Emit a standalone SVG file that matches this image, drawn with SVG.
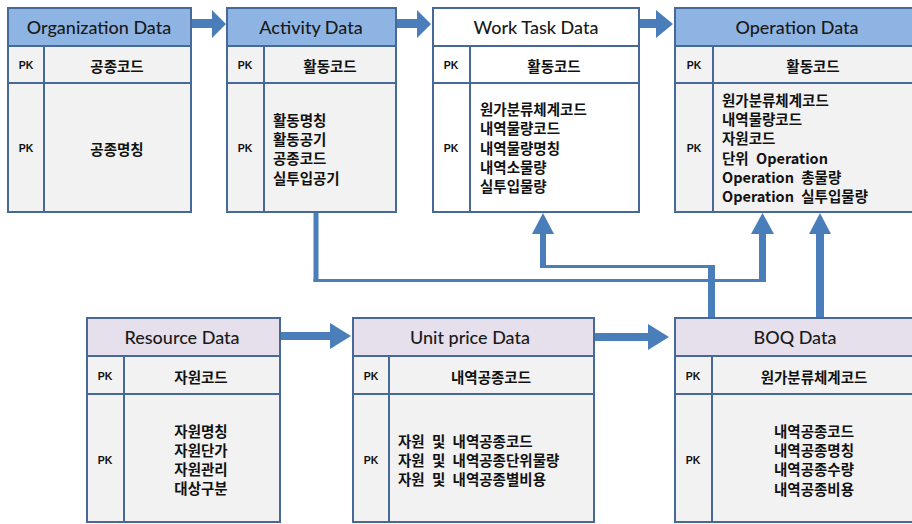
<svg xmlns="http://www.w3.org/2000/svg" width="912" height="524" viewBox="0 0 912 524">
<style>
.box{stroke:#46699a;stroke-width:2}
.hb{fill:#8eb4e3}
.hw{fill:#ffffff}
.hl{fill:#e5e0ec}
.bg{fill:#f2f2f2}
.bw{fill:#ffffff}
.ln{stroke:#46699a;stroke-width:2;fill:none}
.ht{font-family:Lato,"Open Sans",sans-serif;font-size:18px;font-weight:500;fill:#1a1a1a;text-anchor:middle;dominant-baseline:central}
.pk{font-family:"Liberation Sans",Arial,sans-serif;font-size:10.5px;font-weight:bold;fill:#111;text-anchor:middle;dominant-baseline:central}
.kt{font-family:"Noto Sans CJK KR","Noto Sans",sans-serif;font-size:14.5px;font-weight:bold;fill:#111;dominant-baseline:central;word-spacing:4px}
.c{text-anchor:middle}
.ar{fill:#4a7ebb}
</style>

<g id="connectors">
  <polygon class="ar" points="191,19 212,19 212,10 226,24 212,38 212,28 191,28"/>
  <polygon class="ar" points="397,19 417,19 417,10 431,24 417,38 417,28 397,28"/>
  <polygon class="ar" points="640,19 656,19 656,10 673,24 656,38 656,28 640,28"/>
  <polygon class="ar" points="281,332 330,332 330,323 351,336 330,349 330,340 281,340"/>
  <polygon class="ar" points="595,333 648,333 648,324 669,337 648,350 648,341 595,341"/>
  <rect class="ar" x="313.5" y="212" width="5" height="70"/>
  <rect class="ar" x="313.5" y="279" width="452" height="3"/>
  <rect class="ar" x="759" y="232" width="7" height="50"/>
  <polygon class="ar" points="751,234 762.5,213 774,234"/>
  <rect class="ar" x="708" y="265" width="7" height="55"/>
  <rect class="ar" x="540" y="265" width="175" height="3"/>
  <rect class="ar" x="540" y="232" width="6" height="36"/>
  <polygon class="ar" points="532,234 543,213 554,234"/>
  <rect class="ar" x="816" y="232" width="8" height="88"/>
  <polygon class="ar" points="809,234 820,213 831,234"/>
</g>

<g id="organization">
  <rect class="box hb" x="8" y="8" width="183" height="38"/>
  <rect class="box bg" x="8" y="46" width="183" height="166"/>
  <line class="ln" x1="8" y1="83" x2="191" y2="83"/>
  <line class="ln" x1="44" y1="46" x2="44" y2="212"/>
  <text class="ht" x="99" y="27">Organization Data</text>
  <text class="pk" x="26" y="65">PK</text>
  <text class="pk" x="26" y="148">PK</text>
  <text class="kt c" x="117" y="65">공종코드</text>
  <text class="kt c" x="117" y="148">공종명칭</text>
</g>

<g id="activity">
  <rect class="box hb" x="227" y="8" width="169" height="38"/>
  <rect class="box bg" x="227" y="46" width="169" height="166"/>
  <line class="ln" x1="227" y1="83" x2="396" y2="83"/>
  <line class="ln" x1="264" y1="46" x2="264" y2="212"/>
  <text class="ht" x="311" y="27">Activity Data</text>
  <text class="pk" x="245" y="65">PK</text>
  <text class="pk" x="245" y="148">PK</text>
  <text class="kt c" x="330" y="65">활동코드</text>
  <text class="kt" x="273" y="119">활동명칭</text>
  <text class="kt" x="273" y="138">활동공기</text>
  <text class="kt" x="273" y="157">공종코드</text>
  <text class="kt" x="273" y="177">실투입공기</text>
</g>

<g id="worktask">
  <rect class="box hw" x="433" y="8" width="206" height="38"/>
  <rect class="box bw" x="433" y="46" width="206" height="166"/>
  <line class="ln" x1="433" y1="83" x2="639" y2="83"/>
  <line class="ln" x1="470" y1="46" x2="470" y2="212"/>
  <text class="ht" x="536" y="27">Work Task Data</text>
  <text class="pk" x="451" y="65">PK</text>
  <text class="pk" x="451" y="148">PK</text>
  <text class="kt c" x="554" y="65">활동코드</text>
  <text class="kt" x="480" y="108">원가분류체계코드</text>
  <text class="kt" x="480" y="127">내역물량코드</text>
  <text class="kt" x="480" y="147">내역물량명칭</text>
  <text class="kt" x="480" y="166">내역소물량</text>
  <text class="kt" x="480" y="185">실투입물량</text>
</g>

<g id="operation">
  <rect class="box hb" x="675" y="8" width="245" height="38"/>
  <rect class="box bg" x="675" y="46" width="245" height="166"/>
  <line class="ln" x1="675" y1="83" x2="920" y2="83"/>
  <line class="ln" x1="713" y1="46" x2="713" y2="212"/>
  <text class="ht" x="797" y="27">Operation Data</text>
  <text class="pk" x="694" y="65">PK</text>
  <text class="pk" x="694" y="148">PK</text>
  <text class="kt c" x="813" y="65">활동코드</text>
  <text class="kt" x="722" y="99">원가분류체계코드</text>
  <text class="kt" x="722" y="118">내역물량코드</text>
  <text class="kt" x="722" y="137">자원코드</text>
  <text class="kt" x="722" y="157">단위 Operation</text>
  <text class="kt" x="722" y="176">Operation 총물량</text>
  <text class="kt" x="722" y="195">Operation 실투입물량</text>
</g>

<g id="resource">
  <rect class="box hl" x="87" y="318" width="193" height="38"/>
  <rect class="box bg" x="87" y="356" width="193" height="166"/>
  <line class="ln" x1="87" y1="394" x2="280" y2="394"/>
  <line class="ln" x1="124" y1="356" x2="124" y2="522"/>
  <text class="ht" x="182" y="337">Resource Data</text>
  <text class="pk" x="105" y="376">PK</text>
  <text class="pk" x="105" y="460">PK</text>
  <text class="kt c" x="201" y="376">자원코드</text>
  <text class="kt c" x="201" y="430">자원명칭</text>
  <text class="kt c" x="201" y="449">자원단가</text>
  <text class="kt c" x="201" y="468">자원관리</text>
  <text class="kt c" x="201" y="487">대상구분</text>
</g>

<g id="unitprice">
  <rect class="box hl" x="353" y="318" width="241" height="38"/>
  <rect class="box bg" x="353" y="356" width="241" height="166"/>
  <line class="ln" x1="353" y1="394" x2="594" y2="394"/>
  <line class="ln" x1="389" y1="356" x2="389" y2="522"/>
  <text class="ht" x="470" y="337">Unit price Data</text>
  <text class="pk" x="371" y="376">PK</text>
  <text class="pk" x="371" y="460">PK</text>
  <text class="kt c" x="491" y="376">내역공종코드</text>
  <text class="kt" x="398" y="440">자원 및 내역공종코드</text>
  <text class="kt" x="398" y="459">자원 및 내역공종단위물량</text>
  <text class="kt" x="398" y="478">자원 및 내역공종별비용</text>
</g>

<g id="boq">
  <rect class="box hl" x="675" y="318" width="245" height="38"/>
  <rect class="box bg" x="675" y="356" width="245" height="166"/>
  <line class="ln" x1="675" y1="394" x2="920" y2="394"/>
  <line class="ln" x1="712" y1="356" x2="712" y2="522"/>
  <text class="ht" x="795" y="337">BOQ Data</text>
  <text class="pk" x="693" y="376">PK</text>
  <text class="pk" x="693" y="460">PK</text>
  <text class="kt c" x="814" y="376">원가분류체계코드</text>
  <text class="kt c" x="814" y="430">내역공종코드</text>
  <text class="kt c" x="814" y="449">내역공종명칭</text>
  <text class="kt c" x="814" y="468">내역공종수량</text>
  <text class="kt c" x="814" y="488">내역공종비용</text>
</g>
</svg>
